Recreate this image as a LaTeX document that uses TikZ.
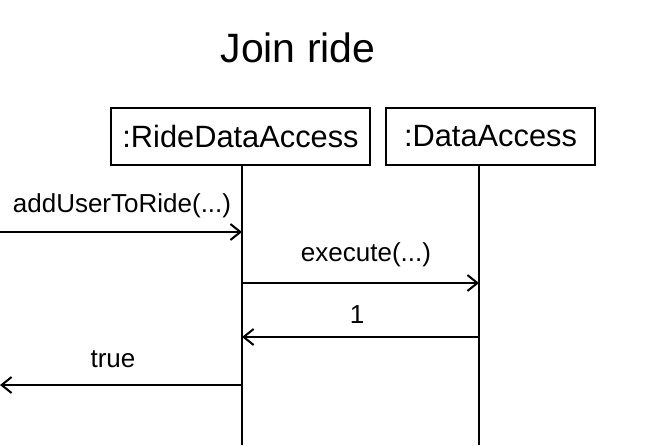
\documentclass[tikz,border=0pt]{standalone}
\usepackage{fontspec}
\setmainfont{Liberation Sans}
\usetikzlibrary{arrows.meta, calc}

\begin{document}
\begin{tikzpicture}[x=1pt, y=1pt, line width=2pt,
    obj/.style={draw, minimum height=57pt, inner sep=0pt, font=\fontsize{30.8}{36}\selectfont},
    msg/.style={-{Straight Barb[length=10pt, width=16pt]}},
    lbl/.style={anchor=base, font=\fontsize{26}{30}\selectfont}]
    \useasboundingbox (0,0) rectangle (645,445);

    \node[anchor=base, font=\fontsize{41}{48}\selectfont] (title) at (298,382) {Join ride};

    \node[obj, minimum width=259pt] (rda) at (240.5,308.5) {:RideDataAccess};
    \node[obj, minimum width=209pt] (da) at (490.5,308.5) {:DataAccess};

    % lifelines
    \coordinate (rdaEnd) at (242,0);
    \coordinate (daEnd) at (479,0);
    \draw (rdaEnd |- rda.south) -- (rdaEnd);
    \draw (daEnd |- da.south) -- (daEnd);

    % messages
    \coordinate (callIn) at (0,213);
    \coordinate (exec) at (242,162);
    \coordinate (ret) at (479,108);
    \coordinate (retOut) at (242,60);

    \draw[msg] (callIn) -- (callIn -| rdaEnd);
    \draw[msg] (exec) -- (exec -| daEnd);
    \draw[msg] (ret) -- (ret -| rdaEnd);
    \draw[msg] (retOut) -- (retOut -| 0,0);

    \node[lbl] (callLbl) at (122,233) {addUserToRide(...)};
    \node[lbl] (execLbl) at (366,183) {execute(...)};
    \node[lbl] (retLbl) at (357,122) {1};
    \node[lbl] (outLbl) at (113,78) {true};
\end{tikzpicture}
\end{document}
